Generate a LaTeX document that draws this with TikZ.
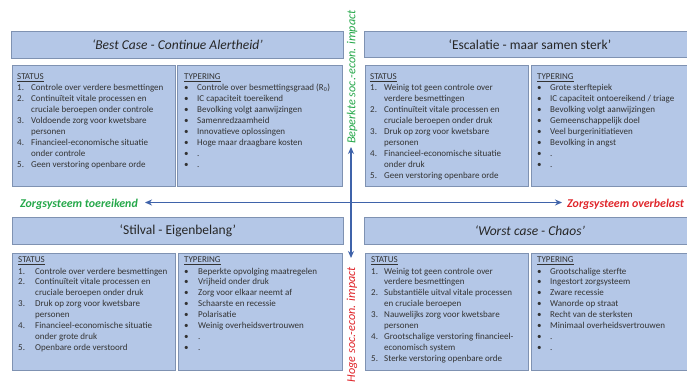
\documentclass[tikz,border=0pt]{standalone}
\usepackage{fontspec}
\setmainfont{Carlito}
\usetikzlibrary{arrows.meta}
\definecolor{boxfill}{HTML}{B4C7E7}
\definecolor{boxline}{HTML}{7F92B2}
\definecolor{titletxt}{HTML}{262626}
\definecolor{bodytxt}{HTML}{333333}
\definecolor{axiscol}{HTML}{3F63AA}
\definecolor{grn}{HTML}{25A84A}
\definecolor{rd}{HTML}{E0262B}
\newcommand{\hdr}[1]{\underline{#1}}
\tikzset{
  qbox/.style={draw=boxline, fill=boxfill, line width=0.8pt, anchor=north west, inner sep=0pt},
  titlebox/.style={qbox, font=\fontsize{13.5}{16}\selectfont, text=titletxt},
  body/.style={anchor=base west, inner sep=0pt, font=\fontsize{9}{10.9}\selectfont, text=bodytxt},
  axisline/.style={draw=axiscol, line width=1.6pt, {Stealth[length=7pt,width=6pt]}-{Stealth[length=7pt,width=6pt]}},
  hlab/.style={inner sep=0pt, font=\fontsize{11.9}{14}\selectfont\bfseries\itshape},
  vlab/.style={inner sep=0pt, rotate=90, font=\fontsize{12.2}{15}\selectfont\itshape},
}
\begin{document}
\begin{tikzpicture}[x=1pt,y=-1pt]
\useasboundingbox (0,0) rectangle (687,387);
\fill[white] (0,0) rectangle (687,387);
\clip (0,0) rectangle (687,387);

% ---------- top left ----------
\node[titlebox, minimum width=332pt, minimum height=27pt] (tlt) at (11,31) {\itshape ‘Best Case - Continue Alertheid’};
\node[qbox, minimum width=163pt, minimum height=121pt] (tlsb) at (12,65) {};
\node[qbox, minimum width=165pt, minimum height=121pt] (tltb) at (177,65) {};
\node[body] (tls) at (17,79.5) {\begin{tabular}[t]{@{}p{14pt}@{}l@{}}
\multicolumn{2}{@{}l@{}}{\hdr{STATUS}}\\[0.6pt]
1. & Controle over verdere besmettingen\\
2. & Continuïteit vitale processen en\\
   & cruciale beroepen onder controle\\
3. & Voldoende zorg voor kwetsbare\\
   & personen\\
4. & Financieel-economische situatie\\
   & onder controle\\
5. & Geen verstoring openbare orde
\end{tabular}};
\node[body] (tlty) at (184,79.5) {\begin{tabular}[t]{@{}p{13pt}@{}l@{}}
\multicolumn{2}{@{}l@{}}{\hdr{TYPERING}}\\[0.6pt]
• & Controle over besmettingsgraad (R\textsubscript{0})\\
• & IC capaciteit toereikend\\
• & Bevolking volgt aanwijzingen\\
• & Samenredzaamheid\\
• & Innovatieve oplossingen\\
• & Hoge maar draagbare kosten\\
• & .\\
• & .
\end{tabular}};

% ---------- top right ----------
\node[titlebox, minimum width=331pt, minimum height=26pt] (trt) at (364,31) {‘Escalatie - maar samen sterk’};
\node[qbox, minimum width=163pt, minimum height=121pt] (trsb) at (365,65) {};
\node[qbox, minimum width=164pt, minimum height=121pt] (trtb) at (531,65) {};
\node[body] (trs) at (370,79.5) {\begin{tabular}[t]{@{}p{14pt}@{}l@{}}
\multicolumn{2}{@{}l@{}}{\hdr{STATUS}}\\[0.6pt]
1. & Weinig tot geen controle over\\
   & verdere besmettingen\\
2. & Continuïteit vitale processen en\\
   & cruciale beroepen onder druk\\
3. & Druk op zorg voor kwetsbare\\
   & personen\\
4. & Financieel-economische situatie\\
   & onder druk\\
5. & Geen verstoring openbare orde
\end{tabular}};
\node[body] (trty) at (537,79.5) {\begin{tabular}[t]{@{}p{13pt}@{}l@{}}
\multicolumn{2}{@{}l@{}}{\hdr{TYPERING}}\\[0.6pt]
• & Grote sterftepiek\\
• & IC capaciteit ontoereikend / triage\\
• & Bevolking volgt aanwijzingen\\
• & Gemeenschappelijk doel\\
• & Veel burgerinitiatieven\\
• & Bevolking in angst\\
• & .\\
• & .
\end{tabular}};

% ---------- bottom left ----------
\node[titlebox, minimum width=331pt, minimum height=27pt] (blt) at (12,217) {‘Stilval - Eigenbelang’};
\node[qbox, minimum width=163pt, minimum height=117pt] (blsb) at (12,253) {};
\node[qbox, minimum width=164pt, minimum height=117pt] (bltb) at (178,253) {};
\node[body] (bls) at (18,262.5) {\begin{tabular}[t]{@{}p{17pt}@{}l@{}}
\multicolumn{2}{@{}l@{}}{\hdr{STATUS}}\\[0.6pt]
1. & Controle over verdere besmettingen\\
2. & Continuïteit vitale processen en\\
   & cruciale beroepen onder druk\\
3. & Druk op zorg voor kwetsbare\\
   & personen\\
4. & Financieel-economische situatie\\
   & onder grote druk\\
5. & Openbare orde verstoord
\end{tabular}};
\node[body] (blty) at (184,262.5) {\begin{tabular}[t]{@{}p{14pt}@{}l@{}}
\multicolumn{2}{@{}l@{}}{\hdr{TYPERING}}\\[0.6pt]
• & Beperkte opvolging maatregelen\\
• & Vrijheid onder druk\\
• & Zorg voor elkaar neemt af\\
• & Schaarste en recessie\\
• & Polarisatie\\
• & Weinig overheidsvertrouwen\\
• & .\\
• & .
\end{tabular}};

% ---------- bottom right ----------
\node[titlebox, minimum width=331pt, minimum height=27pt] (brt) at (364,217) {\itshape ‘Worst case - Chaos’};
\node[qbox, minimum width=163pt, minimum height=117pt] (brsb) at (365,253) {};
\node[qbox, minimum width=164pt, minimum height=117pt] (brtb) at (531,253) {};
\node[body] (brs) at (371,262.5) {\begin{tabular}[t]{@{}p{13pt}@{}l@{}}
\multicolumn{2}{@{}l@{}}{\hdr{STATUS}}\\[0.6pt]
1. & Weinig tot geen controle over\\
   & verdere besmettingen\\
2. & Substantiële uitval vitale processen\\
   & en cruciale beroepen\\
3. & Nauwelijks zorg voor kwetsbare\\
   & personen\\
4. & Grootschalige verstoring financieel-\\
   & economisch system\\
5. & Sterke verstoring openbare orde
\end{tabular}};
\node[body] (brty) at (537,262.5) {\begin{tabular}[t]{@{}p{13pt}@{}l@{}}
\multicolumn{2}{@{}l@{}}{\hdr{TYPERING}}\\[0.6pt]
• & Grootschalige sterfte\\
• & Ingestort zorgsysteem\\
• & Zware recessie\\
• & Wanorde op straat\\
• & Recht van de sterksten\\
• & Minimaal overheidsvertrouwen\\
• & .\\
• & .
\end{tabular}};

% ---------- axes ----------
\coordinate (vt) at (351,147);
\coordinate (vb) at (351,258);
\coordinate (hl) at (145,202.5);
\coordinate (hr) at (562,202.5);
\draw[axisline] (vb) -- (vt);
\draw[axisline] (hl) -- (hr);
\node[hlab, text=grn, anchor=east] (zt) at (138,204) {Zorgsysteem toereikend};
\node[hlab, text=rd, anchor=west] (zo) at (567,204) {Zorgsysteem overbelast};
\node[vlab, text=grn, anchor=west] (bs) at (352,144) {Beperkte soc.-econ. impact};
\node[vlab, text=rd, anchor=east] (hs) at (352,267) {Hoge soc.-econ. impact};
\end{tikzpicture}
\end{document}
